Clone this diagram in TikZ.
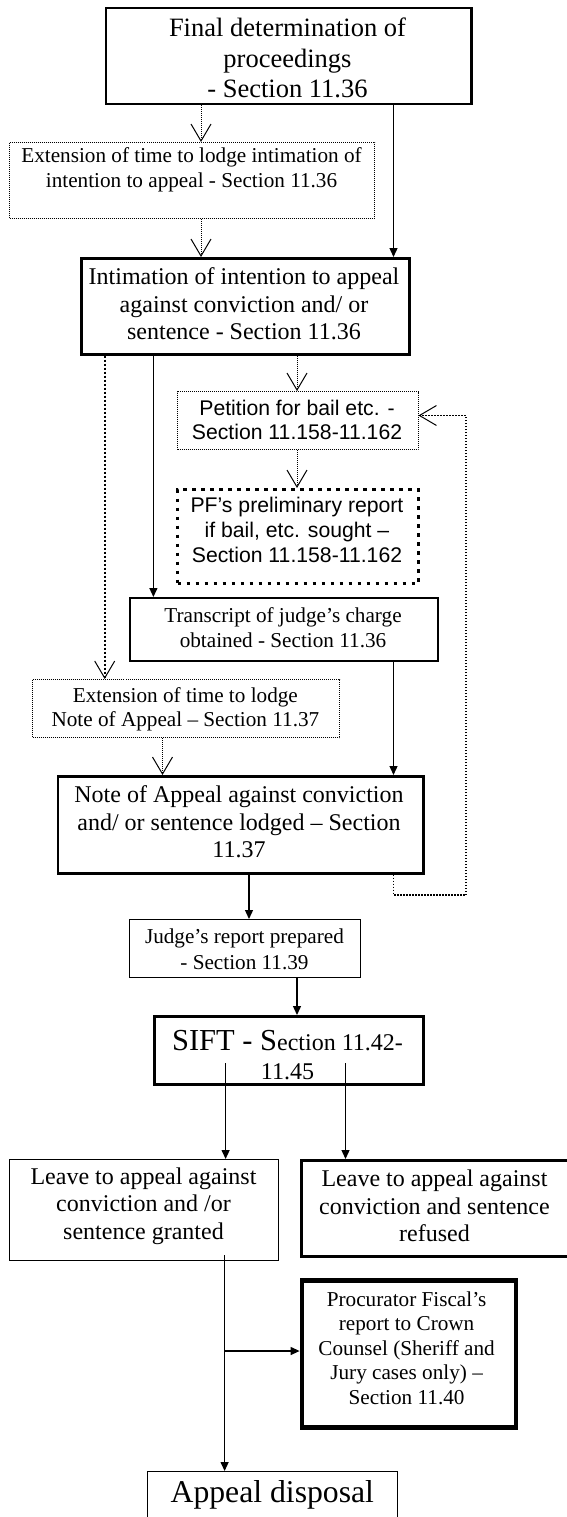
\documentclass[tikz,border=0pt]{standalone}
\usepackage{fontspec}
\setmainfont{Liberation Serif}
\newfontfamily\arialfont{Liberation Sans}
\usetikzlibrary{arrows.meta}

% type sizes
\newcommand\szBig{\fontsize{26.5}{30.5}\selectfont}
\newcommand\szMid{\fontsize{24}{27.6}\selectfont}
\newcommand\szSmall{\fontsize{21.2}{24.5}\selectfont}
\newcommand\szSans{\arialfont\fontsize{21.2}{24.6}\selectfont}
\newcommand\szSift{\fontsize{30.5}{30}\selectfont}
\newcommand\szHuge{\fontsize{31.7}{36}\selectfont}

\tikzset{
  frame/.style={draw, rectangle, inner sep=0pt, anchor=north west},
  dotframe/.style={frame, line width=1pt, dash pattern=on 1pt off 1pt},
  lbl/.style={align=center, inner sep=0pt},
  vhead/.style={-{Straight Barb[length=17pt,width=20pt,line width=1pt]}},
  solidline/.style={line width=1.3pt, -{Triangle[length=9pt,width=8pt]}},
  dotline/.style={vhead, line width=1pt, dash pattern=on 1pt off 1pt},
  dotthick/.style={vhead, line width=2pt, dash pattern=on 2pt off 2pt},
  loopline/.style={vhead, line width=1.5pt, dash pattern=on 1.5pt off 1.5pt},
}

\begin{document}
\begin{tikzpicture}[x=1pt, y=-1pt]
\useasboundingbox[fill=white] (0,0) rectangle (566,1517);

% connector columns
\coordinate (cA) at (201,0);
\coordinate (cB) at (393.5,0);
\coordinate (cC) at (104.7,0);
\coordinate (cD) at (153.4,0);
\coordinate (cE) at (297,0);
\coordinate (cF) at (162.5,0);
\coordinate (cG) at (249,0);

% boxes
\node[frame, line width=2.2pt, minimum width=365.7, minimum height=96] (final) at (104.7,7) {};
\node[lbl, font=\szBig] (finalT) at (287.5,58) {Final determination of\\proceedings\\- Section 11.36};

\node[dotframe, minimum width=365, minimum height=76] (ext1) at (9,142) {};
\node[lbl, font=\szSmall] (ext1T) at (191.5,170) {Extension of time to lodge intimation of\\intention to appeal - Section 11.36};

\node[frame, line width=2.5pt, minimum width=328, minimum height=96] (intim) at (80,257) {};
\node[lbl, font=\szMid] (intimT) at (244,304) {Intimation of intention to appeal\\against conviction and/ or\\sentence - Section 11.36};

\node[dotframe, minimum width=240.5, minimum height=58] (petition) at (177,391) {};
\node[lbl, font=\szSans] (petitionT) at (297,420) {Petition for bail etc. -\\Section 11.158-11.162};

\node[frame, line width=3.3pt, dash pattern=on 3.3pt off 5.7pt, minimum width=241, minimum height=94] (pfpre) at (176,488) {};
\node[lbl, font=\szSans] (pfpreT) at (297,530) {PF’s preliminary report\\if bail, etc. sought –\\Section 11.158-11.162};

\node[frame, line width=2pt, minimum width=308, minimum height=63] (trans) at (129,597) {};
\node[lbl, font=\szSmall] (transT) at (283,627.5) {Transcript of judge’s charge\\obtained - Section 11.36};

\node[dotframe, minimum width=307, minimum height=58] (ext2) at (32,679) {};
\node[lbl, font=\szSmall] (ext2T) at (185.4,709.5) {Extension of time to lodge\\Note of Appeal – Section 11.37};

\node[frame, line width=2.5pt, minimum width=365.3, minimum height=97] (note) at (56.7,775) {};
\node[lbl, font=\szMid] (noteT) at (239,822) {Note of Appeal against conviction\\and/ or sentence lodged – Section\\11.37};

\node[frame, line width=1.3pt, minimum width=231, minimum height=58] (judge) at (129,919) {};
\node[lbl, font=\szSmall, align=center] (judgeT) at (244.5,949) {Judge’s report prepared\\[1.5pt]- Section 11.39};

\node[frame, line width=2.5pt, minimum width=269, minimum height=68] (sift) at (153.4,1015) {};
\node[lbl, font=\szMid] (siftT) at (287.5,1055) {{\szSift SIFT - S}ection 11.42-\\[2pt]11.45};

\node[frame, line width=1.2pt, minimum width=269, minimum height=101] (granted) at (9,1159) {};
\node[lbl, font=\szMid] (grantedT) at (143.5,1206) {Leave to appeal against\\conviction and /or\\sentence granted};

\node[frame, line width=2.5pt, minimum width=270, minimum height=96] (refused) at (300.4,1159) {};
\node[lbl, font=\szMid] (refusedT) at (434.5,1206) {Leave to appeal against\\conviction and sentence\\refused};

\node[frame, line width=4.5pt, minimum width=214, minimum height=147] (pfrep) at (299.6,1278) {};
\node[lbl, font=\szSmall] (pfrepT) at (406.6,1348) {Procurator Fiscal’s\\report to Crown\\Counsel (Sheriff and\\Jury cases only) –\\Section 11.40};

\node[frame, line width=1.3pt, minimum width=250, minimum height=60] (appeal) at (147,1471) {};
\node[lbl, font=\szHuge] (appealT) at (272.3,1495) {Appeal disposal};

% free ends of connectors
\coordinate (loopA) at (466,895);
\coordinate (siftL) at (225.6,1063);
\coordinate (siftR) at (345.5,1063);
\coordinate (grantOut) at (224.6,1255);
\coordinate (branch) at (224.6,1351);

% connectors
\draw[dotline] (final.south -| cA) -- (ext1.north -| cA);
\draw[dotline] (ext1.south -| cA) -- (intim.north -| cA);
\draw[solidline] (final.south -| cB) -- (intim.north -| cB);
\draw[dotthick] (intim.south -| cC) -- (ext2.north -| cC);
\draw[solidline] (intim.south -| cD) -- (trans.north -| cD);
\draw[dotline] (intim.south -| cE) -- (petition.north -| cE);
\draw[dotline] (petition.south -| cE) -- (pfpre.north -| cE);
\draw[solidline] (trans.south -| cB) -- (note.north -| cB);
\draw[dotline] (ext2.south -| cF) -- (note.north -| cF);
\draw[loopline] (note.south -| cB) |- (loopA) |- ([yshift=5pt]petition.east);
\draw[solidline] (note.south -| cG) -- (judge.north -| cG);
\draw[solidline] (judge.south -| cE) -- (sift.north -| cE);
\draw[solidline] (siftL) -- (granted.north -| siftL);
\draw[solidline] (siftR) -- (refused.north -| siftR);
\draw[solidline] (grantOut) -- (appeal.north -| grantOut);
\draw[solidline] (branch) -- (pfrep.west |- branch);
\end{tikzpicture}
\end{document}
